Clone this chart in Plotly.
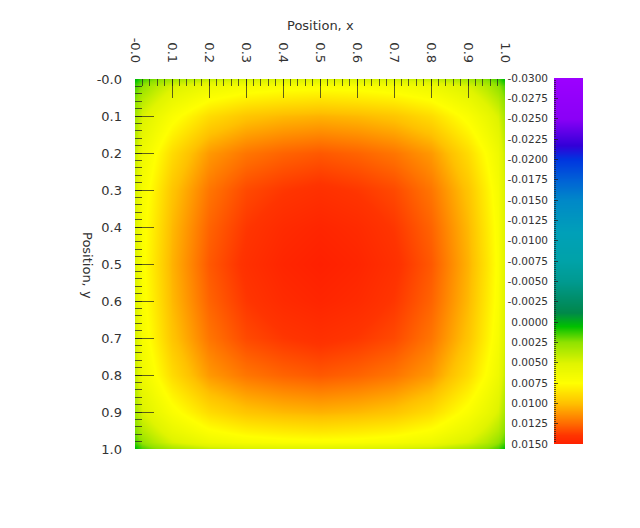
import plotly.graph_objects as go

# Grid positions (denser near the walls where the field changes fastest)
grid_pos = [0.0, 0.02, 0.05, 0.1, 0.2, 0.3, 0.4, 0.5, 0.6, 0.7, 0.8, 0.9, 0.95, 0.98, 1.0]

# Field values, rows = y (top to bottom), cols = x
field = [
    [0.0002, 0.0015, 0.0022, 0.0031, 0.0041, 0.0045, 0.0047, 0.0048, 0.0047, 0.0045, 0.0041, 0.0031, 0.0022, 0.0015, 0.0002],
    [0.0015, 0.0026, 0.0036, 0.0048, 0.0062, 0.0068, 0.0071, 0.0072, 0.0071, 0.0068, 0.0062, 0.0048, 0.0036, 0.0026, 0.0015],
    [0.0022, 0.0036, 0.0045, 0.0058, 0.0073, 0.0080, 0.0083, 0.0085, 0.0083, 0.0080, 0.0073, 0.0058, 0.0045, 0.0036, 0.0022],
    [0.0031, 0.0048, 0.0058, 0.0071, 0.0089, 0.0098, 0.0102, 0.0104, 0.0102, 0.0098, 0.0089, 0.0071, 0.0058, 0.0048, 0.0031],
    [0.0041, 0.0062, 0.0073, 0.0089, 0.0111, 0.0121, 0.0126, 0.0129, 0.0126, 0.0121, 0.0111, 0.0089, 0.0073, 0.0062, 0.0041],
    [0.0045, 0.0068, 0.0080, 0.0098, 0.0121, 0.0133, 0.0138, 0.0141, 0.0138, 0.0133, 0.0121, 0.0098, 0.0080, 0.0068, 0.0045],
    [0.0047, 0.0071, 0.0083, 0.0102, 0.0126, 0.0138, 0.0144, 0.0147, 0.0144, 0.0138, 0.0126, 0.0102, 0.0083, 0.0071, 0.0047],
    [0.0048, 0.0072, 0.0085, 0.0104, 0.0129, 0.0141, 0.0147, 0.0150, 0.0147, 0.0141, 0.0129, 0.0104, 0.0085, 0.0072, 0.0048],
    [0.0047, 0.0071, 0.0083, 0.0102, 0.0126, 0.0138, 0.0144, 0.0147, 0.0144, 0.0138, 0.0126, 0.0102, 0.0083, 0.0071, 0.0047],
    [0.0045, 0.0068, 0.0080, 0.0098, 0.0121, 0.0133, 0.0138, 0.0141, 0.0138, 0.0133, 0.0121, 0.0098, 0.0080, 0.0068, 0.0045],
    [0.0041, 0.0062, 0.0073, 0.0089, 0.0111, 0.0121, 0.0126, 0.0129, 0.0126, 0.0121, 0.0111, 0.0089, 0.0073, 0.0062, 0.0041],
    [0.0031, 0.0048, 0.0058, 0.0071, 0.0089, 0.0098, 0.0102, 0.0104, 0.0102, 0.0098, 0.0089, 0.0071, 0.0058, 0.0048, 0.0031],
    [0.0022, 0.0036, 0.0045, 0.0058, 0.0073, 0.0080, 0.0083, 0.0085, 0.0083, 0.0080, 0.0073, 0.0058, 0.0045, 0.0036, 0.0022],
    [0.0015, 0.0026, 0.0036, 0.0048, 0.0062, 0.0068, 0.0071, 0.0072, 0.0071, 0.0068, 0.0062, 0.0048, 0.0036, 0.0026, 0.0015],
    [0.0002, 0.0015, 0.0022, 0.0031, 0.0041, 0.0045, 0.0047, 0.0048, 0.0047, 0.0045, 0.0041, 0.0031, 0.0022, 0.0015, 0.0002],
]

# Axis ticks
pos_ticks = [0.0, 0.1, 0.2, 0.3, 0.4, 0.5, 0.6, 0.7, 0.8, 0.9, 1.0]
pos_labels = ["-0.0", "0.1", "0.2", "0.3", "0.4", "0.5", "0.6", "0.7", "0.8", "0.9", "1.0"]

# Colour bar levels (top to bottom)
cb_levels = [-0.0300, -0.0275, -0.0250, -0.0225, -0.0200, -0.0175, -0.0150, -0.0125, -0.0100,
             -0.0075, -0.0050, -0.0025, 0.0000, 0.0025, 0.0050, 0.0075, 0.0100, 0.0125, 0.0150]
Z_MIN, Z_MAX = -0.03, 0.015

# IDL-like rainbow: purple -> blue -> teal -> green -> yellow -> red
colors = [
    [0.000, "#9c00ff"],
    [0.110, "#8a00f6"],
    [0.184, "#3200d8"],
    [0.222, "#0034e0"],
    [0.278, "#0062d6"],
    [0.333, "#0088c8"],
    [0.422, "#00a0b8"],
    [0.500, "#00a2a8"],
    [0.556, "#009a90"],
    [0.611, "#008c62"],
    [0.640, "#00884a"],
    [0.678, "#00c000"],
    [0.722, "#90e200"],
    [0.778, "#e0f400"],
    [0.833, "#ffff00"],
    [0.889, "#ffc000"],
    [0.944, "#ff6800"],
    [0.975, "#ff3400"],
    [1.000, "#ff2000"],
]

TEXT = "#333333"
TICK = "rgba(30,30,30,0.7)"
FONT = "DejaVu Sans"

W, H = 640, 528
OFF = 8  # page body margin


def px_x(p):
    return (p - OFF) / W


def px_y(p):
    return 1 - (p - OFF) / H


fig = go.Figure()

fig.add_trace(go.Heatmap(
    x=grid_pos, y=grid_pos, z=field,
    zmin=Z_MIN, zmax=Z_MAX, colorscale=colors,
    zsmooth="best", showscale=False, hoverinfo="skip",
    xaxis="x", yaxis="y",
))

# colour bar drawn as its own strip so it can run top -> bottom
fig.add_trace(go.Heatmap(
    x=[0, 1], y=cb_levels, z=[[v, v] for v in cb_levels],
    zmin=Z_MIN, zmax=Z_MAX, colorscale=colors,
    zsmooth="best", showscale=False, hoverinfo="skip",
    xaxis="x2", yaxis="y2",
))

fig.update_layout(
    width=W, height=H,
    margin=dict(l=0, r=0, t=0, b=0),
    paper_bgcolor="white", plot_bgcolor="white",
    font=dict(family=FONT, size=13, color=TEXT),
    showlegend=False,
    xaxis=dict(
        domain=[px_x(135), px_x(505)], range=[0, 1], side="top",
        tickvals=pos_ticks, ticktext=pos_labels, tickangle=90,
        ticks="inside", ticklen=19, tickwidth=1, tickcolor=TICK,
        minor=dict(dtick=0.02, ticks="inside", ticklen=7, tickwidth=1, tickcolor=TICK),
        ticklabelstandoff=13,
        showgrid=False, zeroline=False, showline=False, automargin=False,
    ),
    yaxis=dict(
        domain=[px_y(449), px_y(79)], range=[1, 0],
        tickvals=pos_ticks, ticktext=pos_labels,
        ticks="inside", ticklen=19, tickwidth=1, tickcolor=TICK,
        minor=dict(dtick=0.02, ticks="inside", ticklen=7, tickwidth=1, tickcolor=TICK),
        ticklabelstandoff=12,
        showgrid=False, zeroline=False, showline=False, automargin=False,
    ),
    xaxis2=dict(
        domain=[px_x(554), px_x(583)], range=[0, 1], anchor="y2",
        showticklabels=False, ticks="", showgrid=False, zeroline=False, showline=False,
    ),
    yaxis2=dict(
        domain=[px_y(444), px_y(78)], range=[Z_MAX, Z_MIN], anchor="x2", side="left",
        tickvals=cb_levels, ticktext=[f"{v:.4f}" for v in cb_levels],
        tickfont=dict(size=10.5, color=TEXT),
        ticks="inside", ticklen=4, tickwidth=1, tickcolor=TICK,
        minor=dict(dtick=0.00025, ticks="inside", ticklen=2, tickwidth=1, tickcolor=TICK),
        ticklabelstandoff=5,
        showgrid=False, zeroline=False, showline=False, automargin=False,
    ),
)

fig.add_annotation(
    text="Position, x", xref="paper", yref="paper",
    x=px_x(320), y=px_y(26), xanchor="center", yanchor="middle", showarrow=False,
    font=dict(size=13, color=TEXT),
)
fig.add_annotation(
    text="Position, y", xref="paper", yref="paper",
    x=px_x(88), y=px_y(265), xanchor="center", yanchor="middle",
    textangle=90, showarrow=False,
    font=dict(size=13, color=TEXT),
)

fig.write_html("out.html")
